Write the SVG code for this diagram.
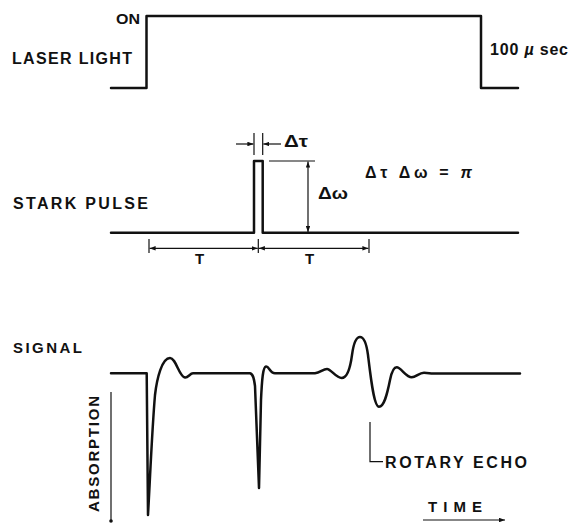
<svg xmlns="http://www.w3.org/2000/svg" width="587" height="525" viewBox="0 0 587 525">
<style>
.lbl{font-family:"Liberation Sans",Arial,sans-serif;font-weight:bold;fill:#111;}
.wave{fill:none;stroke:#111;stroke-width:2.5;stroke-linejoin:round;stroke-linecap:round;}
.dim{fill:none;stroke:#111;stroke-width:1.2;}
</style>
<defs>
<marker id="ah" viewBox="0 0 8 6" refX="8" refY="3" markerWidth="6" markerHeight="4.5" markerUnits="userSpaceOnUse" orient="auto">
<path d="M0,0 L8,3 L0,6 z" fill="#111"/>
</marker>
</defs>
<rect width="587" height="525" fill="#fff"/>

<g id="laser-light">
<polyline class="wave" points="111,88 146.5,88 146.5,16 481,16 481,88 518,88"/>
<text class="lbl" x="116" y="24" font-size="14" textLength="24" lengthAdjust="spacingAndGlyphs">ON</text>
<text class="lbl" x="12" y="64" font-size="16" textLength="120" lengthAdjust="spacing">LASER LIGHT</text>
<text class="lbl" x="490" y="55" font-size="16" textLength="78" lengthAdjust="spacing">100 <tspan font-style="italic">µ</tspan> sec</text>
</g>

<g id="stark-pulse">
<polyline class="wave" points="111,232.7 254,232.7 254,161 262.7,161 262.7,232.7 518,232.7"/>
<text class="lbl" x="13" y="209" font-size="16" textLength="135" lengthAdjust="spacing">STARK PULSE</text>
<text class="lbl" x="284" y="147" font-size="16" textLength="24" lengthAdjust="spacingAndGlyphs">Δτ</text>
<text class="lbl" x="318" y="199" font-size="17" textLength="30" lengthAdjust="spacingAndGlyphs">Δω</text>
<text class="lbl" x="365" y="178" font-size="16" textLength="107" lengthAdjust="spacing">Δτ  Δω = <tspan font-style="italic">π</tspan></text>
<text class="lbl" x="195" y="264" font-size="15">T</text>
<text class="lbl" x="305" y="264" font-size="15">T</text>
</g>

<g id="signal">
<path class="wave" d="M111,373.3 L146.7,373.3 L148,515 C150,480 152,430 155,395 C157,378 162,358 170,358 C176,358 179,376.5 185,377.5 C188,378 190,373.3 193,373.3 L250,373.3 C253,374 254,378 255,386 L259,488 L261,400 C262,378 263,367 266,366.5 C269,366 270,373.3 275,373.3 L315,373.3 C320,373 323,369 327,369 C331,369 336,378 341.7,378 C347,378 350,370 352,355 C354,340 357,337 360,337 C363,337 366,340 368,355 C371,380 374,406.7 379,406.7 C384,406.7 387,395 390,380 C392,370 394,367.3 396.7,367.3 C401,367.3 406,377.3 411.7,377.3 C416,377.3 419,372.7 424,372.7 C428,372.7 430,373.5 433,373.5 L520,373.5"/>
<text class="lbl" x="13" y="353" font-size="15" textLength="69" lengthAdjust="spacing">SIGNAL</text>
<text class="lbl" transform="translate(99,454) rotate(-90)" x="0" y="0" text-anchor="middle" font-size="15" textLength="116" lengthAdjust="spacing">ABSORPTION</text>
<text class="lbl" x="385" y="468" font-size="16" textLength="142" lengthAdjust="spacing">ROTARY ECHO</text>
<text class="lbl" x="428" y="512" font-size="15" textLength="54" lengthAdjust="spacing">TIME</text>
</g>

<g id="connectors">
<line class="dim" x1="254" y1="133" x2="254" y2="155"/>
<line class="dim" x1="262.7" y1="133" x2="262.7" y2="155"/>
<line class="dim" x1="236" y1="144" x2="253.4" y2="144" marker-end="url(#ah)"/>
<line class="dim" x1="281" y1="144" x2="263.3" y2="144" marker-end="url(#ah)"/>
<line class="dim" x1="269" y1="161" x2="315" y2="161"/>
<line class="dim" x1="308" y1="197" x2="308" y2="161.6" marker-end="url(#ah)"/>
<line class="dim" x1="308" y1="197" x2="308" y2="232" marker-end="url(#ah)"/>
<line class="dim" x1="149" y1="239" x2="149" y2="253"/>
<line class="dim" x1="258.3" y1="239" x2="258.3" y2="253"/>
<line class="dim" x1="369" y1="239" x2="369" y2="253"/>
<line class="dim" x1="204" y1="248.3" x2="149.6" y2="248.3" marker-end="url(#ah)"/>
<line class="dim" x1="204" y1="248.3" x2="257.7" y2="248.3" marker-end="url(#ah)"/>
<line class="dim" x1="314" y1="248.3" x2="258.9" y2="248.3" marker-end="url(#ah)"/>
<line class="dim" x1="314" y1="248.3" x2="368.4" y2="248.3" marker-end="url(#ah)"/>
<line class="dim" x1="111" y1="392" x2="111" y2="521"/>
<circle cx="111" cy="521" r="1.8" fill="#111"/>
<polyline class="dim" points="370,422 370,461.7 383,461.7"/>
<line class="dim" x1="423" y1="520" x2="505" y2="520" marker-end="url(#ah)"/>
</g>
</svg>
